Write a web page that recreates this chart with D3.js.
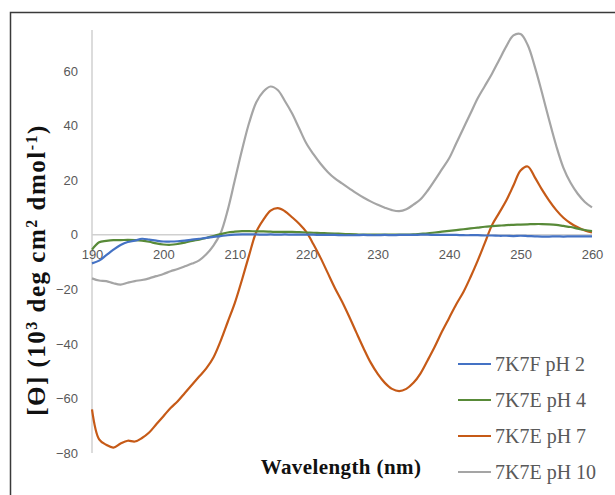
<!DOCTYPE html>
<html>
<head>
<meta charset="utf-8">
<script src="https://cdn.jsdelivr.net/npm/d3@7"></script>
<style>
  body { margin: 0; background: #fff; }
</style>
</head>
<body>
<svg id="chart" width="615" height="495"></svg>
<script>
// wavelengths in nm (1 nm steps)
const wavelengths = [
  190, 191, 192, 193, 194, 195, 196, 197, 198, 199,
  200, 201, 202, 203, 204, 205, 206, 207, 208, 209,
  210, 211, 212, 213, 214, 215, 216, 217, 218, 219,
  220, 221, 222, 223, 224, 225, 226, 227, 228, 229,
  230, 231, 232, 233, 234, 235, 236, 237, 238, 239,
  240, 241, 242, 243, 244, 245, 246, 247, 248, 249,
  250, 251, 252, 253, 254, 255, 256, 257, 258, 259, 260
]

const ph2 = [
  -10.5, -9.5, -7.5, -5.5, -3.8, -2.7, -2.2, -1.5, -1.8, -2.2,
  -2.5, -2.5, -2.4, -2.2, -1.8, -1.5, -1.2, -0.8, -0.5, -0.2,
  0, 0.1, 0.1, 0.1, 0, 0.1, 0, 0.1, 0, 0,
  0, 0, -0.1, -0.1, -0.1, -0.2, -0.2, -0.2, -0.1, -0.2,
  -0.2, -0.1, -0.2, -0.1, -0.1, -0.1, 0, 0, -0.1, -0.1,
  -0.1, -0.1, -0.2, -0.2, -0.2, -0.3, -0.3, -0.4, -0.4, -0.5,
  -0.4, -0.5, -0.6, -0.7, -0.7, -0.6, -0.7, -0.6, -0.6, -0.6, -0.6
]

const ph4 = [
  -5.5, -2.8, -2.3, -2, -2, -1.9, -2, -2.2, -2.6, -3.2,
  -3.6, -3.7, -3.4, -2.9, -2.3, -1.8, -1.2, -0.5, 0.2, 0.8,
  1.1, 1.3, 1.3, 1.2, 1.2, 1.1, 1, 1, 1, 0.9,
  0.8, 0.7, 0.6, 0.5, 0.4, 0.3, 0.2, 0.1, 0, 0,
  0, 0, 0, 0, 0, 0.1, 0.3, 0.5, 0.8, 1.1,
  1.4, 1.7, 2, 2.3, 2.6, 2.9, 3.1, 3.3, 3.5, 3.6,
  3.7, 3.8, 3.9, 3.9, 3.8, 3.6, 3.2, 2.8, 2.2, 1.7, 1.3
]

const ph7 = [
  -64, -75, -77, -78, -76.5, -75.5, -75.8, -74.5, -72.5, -69.5,
  -66.5, -63.5, -61, -58, -55, -52, -49, -45, -39, -32,
  -25, -16.5, -7.5, 1, 5.5, 8.8, 9.7, 8.6, 6.4, 4,
  1, -3.5, -8.5, -14, -19.5, -24.5, -30, -35.8, -41.5, -46.8,
  -51, -54.3, -56.5, -57.3, -56.5, -54.3, -50.8, -46, -41, -35.5,
  -30.5, -25.5, -21, -15.5, -9.5, -3, 3.5, 8, 12.5, 18,
  23.5, 25, 21, 16.5, 12.5, 9, 6.2, 4.2, 2.7, 1.5, 0.8
]

const ph10 = [
  -16, -16.8, -17, -17.8, -18.3, -17.6, -17, -16.6, -16, -15.2,
  -14.4, -13.4, -12.6, -11.6, -10.6, -9.4, -7.2, -4, 0.5, 9,
  20, 31, 41, 48.5, 52.5, 54.3, 53, 49, 44.5, 39,
  33.5, 29.5, 26, 23, 20.6, 18.8, 17, 15.2, 13.6, 12.2,
  11, 9.9, 9, 8.6, 9.3, 11, 13, 16.2, 20, 24,
  28, 33.5, 39, 44.5, 50, 54.5, 59, 64, 69, 73,
  73.5, 69.5, 61.5, 52, 42, 32.5, 24.5, 19, 15, 12, 10
]

const seriesNames = ['7K7F pH 2', '7K7E pH 4', '7K7E pH 7', '7K7E pH 10']
const seriesColors = ['#4472C4', '#588A38', '#C65A17', '#A5A5A5']
const xTicks = [190, 200, 210, 220, 230, 240, 250, 260]
const yTicks = [-80, -60, -40, -20, 0, 20, 40, 60]

// draw ------------------------------
function draw() {
  const svg = d3.select('#chart')

  // outer frame (runs off the right and bottom edge)
  svg.append('rect')
    .attr('x', 10.5).attr('y', 12.5)
    .attr('width', 620).attr('height', 500)
    .attr('fill', 'none')
    .attr('stroke', '#3a3a3a')
    .attr('stroke-width', 1.5)

  const x = d3.scaleLinear().domain([190, 260]).range([92, 592])
  const y = d3.scaleLinear().domain([-80, 75]).range([453, 30])

  // vertical axis line
  svg.append('line')
    .attr('x1', x(190)).attr('x2', x(190))
    .attr('y1', y(75)).attr('y2', y(-80))
    .attr('stroke', '#d0d0d0').attr('stroke-width', 1.5)

  // horizontal axis at zero
  svg.append('line')
    .attr('x1', x(190)).attr('x2', x(260))
    .attr('y1', y(0)).attr('y2', y(0))
    .attr('stroke', '#d0d0d0').attr('stroke-width', 1.5)

  const yAxis = d3.axisLeft(y).tickValues(yTicks).tickSize(0).tickPadding(14)
  svg.append('g')
    .attr('transform', `translate(${x(190)},0)`)
    .call(yAxis)
    .call((g) => g.select('.domain').remove())
    .call((g) => g.selectAll('text')
      .attr('fill', '#595959')
      .style('font-family', 'Liberation Sans, Arial, sans-serif')
      .style('font-size', '13px'))

  const xAxis = d3.axisBottom(x).tickValues(xTicks).tickSize(0).tickPadding(15)
  svg.append('g')
    .attr('transform', `translate(0,${y(0)})`)
    .call(xAxis)
    .call((g) => g.select('.domain').remove())
    .call((g) => g.selectAll('text')
      .attr('fill', '#595959')
      .style('font-family', 'Liberation Sans, Arial, sans-serif')
      .style('font-size', '13px'))

  const allSeries = [ph2, ph4, ph7, ph10]
  const line = d3.line()
    .x((d, i) => x(wavelengths[i]))
    .y((d) => y(d))
    .curve(d3.curveCatmullRom.alpha(0.5))

  // gray first so the others sit on top
  const order = [3, 2, 1, 0]
  order.forEach((k) => {
    svg.append('path')
      .datum(allSeries[k])
      .attr('d', line)
      .attr('fill', 'none')
      .attr('stroke', seriesColors[k])
      .attr('stroke-width', 2.2)
      .attr('stroke-linejoin', 'round')
  })

  // legend
  const legend = svg.append('g')
  seriesNames.forEach((name, i) => {
    const ly = 364 + i * 36
    legend.append('line')
      .attr('x1', 458).attr('x2', 491)
      .attr('y1', ly).attr('y2', ly)
      .attr('stroke', seriesColors[i])
      .attr('stroke-width', 2.2)
    legend.append('text')
      .attr('x', 495).attr('y', ly)
      .attr('dy', '0.35em')
      .attr('fill', '#595959')
      .style('font-family', 'Liberation Serif, serif')
      .style('font-size', '20px')
      .text(name)
  })

  // axis titles
  svg.append('text')
    .attr('x', 341).attr('y', 474)
    .attr('text-anchor', 'middle')
    .style('font-family', 'Liberation Serif, serif')
    .style('font-weight', 'bold')
    .style('font-size', '21px')
    .style('letter-spacing', '0.4px')
    .attr('fill', '#111')
    .text('Wavelength (nm)')

  const yt = svg.append('text')
    .attr('transform', 'translate(45,270) rotate(-90)')
    .attr('text-anchor', 'middle')
    .style('font-family', 'Liberation Serif, serif')
    .style('font-weight', 'bold')
    .style('font-size', '25px')
    .style('letter-spacing', '1.5px')
    .attr('fill', '#111')
  yt.append('tspan').text('[ϴ] (10')
  yt.append('tspan').attr('baseline-shift', 'super').style('font-size', '16px').text('3')
  yt.append('tspan').text(' deg cm')
  yt.append('tspan').attr('baseline-shift', 'super').style('font-size', '16px').text('2')
  yt.append('tspan').text(' dmol')
  yt.append('tspan').attr('baseline-shift', 'super').style('font-size', '16px').text('-1')
  yt.append('tspan').text(')')
}

draw()
</script>
</body>
</html>
